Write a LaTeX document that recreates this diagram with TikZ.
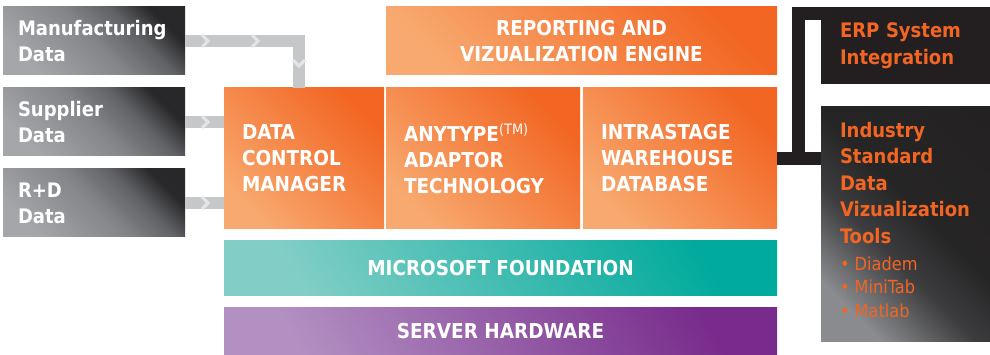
\documentclass[tikz,border=0pt]{standalone}
\usepackage{fontspec}
\setmainfont{DejaVu Sans Condensed}
\usetikzlibrary{positioning}

\definecolor{orangedark}{HTML}{F26522}
\definecolor{orangelight}{HTML}{F8A96F}
\definecolor{tealdark}{HTML}{00AA9C}
\definecolor{teallight}{HTML}{82CEC6}
\definecolor{purpledark}{HTML}{782B8C}
\definecolor{purplelight}{HTML}{B290C2}
\definecolor{darkbg}{HTML}{231F20}
\definecolor{feedgray}{HTML}{C6C7C9}
\definecolor{chevcol}{HTML}{E4E5E6}
\definecolor{tooltext}{HTML}{F26522}

\pgfdeclareverticalshading{srcshade}{100bp}{color(0bp)=(rgb,255:red,165;green,166;blue,170);
  color(25bp)=(rgb,255:red,165;green,166;blue,170); color(50bp)=(rgb,255:red,132;green,133;blue,137);
  color(64bp)=(rgb,255:red,96;green,97;blue,100); color(75bp)=(rgb,255:red,40;green,40;blue,42);
  color(100bp)=(rgb,255:red,40;green,40;blue,42)}
\pgfdeclareverticalshading{indshade}{100bp}{color(0bp)=(rgb,255:red,138;green,139;blue,142);
  color(25bp)=(rgb,255:red,138;green,139;blue,142); color(42bp)=(rgb,255:red,60;green,60;blue,62);
  color(55bp)=(rgb,255:red,38;green,37;blue,38); color(100bp)=(rgb,255:red,35;green,31;blue,32)}

\tikzset{
  block/.style={anchor=north west, inner sep=0pt, outer sep=0pt, text=white,
    font=\bfseries\fontsize{20.5}{26}\selectfont},
  orangebox/.style={bottom color=orangelight, top color=orangedark, shading angle=-45},
  srcbox/.style={block, minimum width=182pt, minimum height=68pt, inner xsep=15pt,
    text width=152pt, align=left, font=\bfseries\fontsize{20}{26}\selectfont,
    shade, shading=srcshade, shading angle=-45},
  corebox/.style={block, orangebox, align=left, inner xsep=18pt, minimum height=141pt},
  barbox/.style={block, align=center, minimum width=553pt},
  toolbox/.style={block, text=tooltext, fill=darkbg, font=\bfseries\fontsize{20}{26.5}\selectfont},
  feed/.style={draw=feedgray, line width=12pt, line join=miter},
  link/.style={draw=darkbg, line width=13pt, line join=miter},
  chev/.pic={\draw[chevcol, line width=3pt, line join=miter] (-4,-6) -- (2,0) -- (-4,6);}
}

\begin{document}
\begin{tikzpicture}[x=1pt,y=-1pt]
  \useasboundingbox (0,0) rectangle (990,355);

  \node[srcbox] (mfg) at (3,7) {Manufacturing\\Data};
  \node[srcbox] (sup) at (3,88) {Supplier\\Data};
  \node[srcbox] (rd) at (3,169) {R+D\\Data};

  \node[corebox, minimum width=160pt, text width=124pt] (dcm) at (224,88) {DATA\\CONTROL\\MANAGER};
  \node[corebox, minimum width=194pt, text width=158pt] (any) at (386,88)
    {ANYTYPE\textsuperscript{\mdseries(TM)}\\ADAPTOR\\TECHNOLOGY};
  \node[corebox, minimum width=194pt, text width=158pt] (intra) at (583,88)
    {INTRASTAGE\\WAREHOUSE\\DATABASE};
  \node[block, orangebox, align=center, minimum width=391pt, minimum height=68pt] (report) at (386,7)
    {REPORTING AND\\VIZUALIZATION ENGINE};

  \node[barbox, minimum height=54pt, bottom color=teallight, top color=tealdark, shading angle=-60] (ms) at (224,241)
    {MICROSOFT FOUNDATION};
  \node[barbox, minimum height=48pt, bottom color=purplelight, top color=purpledark, shading angle=-60] (hw) at (224,307)
    {SERVER HARDWARE};

  \node[toolbox, minimum width=169pt, minimum height=77pt, inner xsep=19pt, text width=131pt, align=left] (erp) at (821,7)
    {ERP System\\Integration};
  \node[block, minimum width=169pt, minimum height=234pt, shade, shading=indshade, shading angle=-45] (ind) at (821,107) {};
  \node[toolbox, fill=none, align=left, anchor=north west] (indtitle) at ([xshift=19pt,yshift=-15pt]ind.north west)
    {Industry\\Standard\\Data\\Vizualization\\Tools};
  \node[toolbox, fill=none, align=left, below=13pt of indtitle.south west, anchor=north west,
    font=\fontsize{18}{23.5}\selectfont] (indlist)
    {• Diadem\\• MiniTab\\• Matlab};

  \draw[feed] (mfg.east) -| ([xshift=-5pt]dcm.north);
  \draw[feed] (sup.east) -- (sup.east -| dcm.west);
  \draw[feed] (rd.east) -- (rd.east -| dcm.west);
  \path (206,41) pic {chev} (256,41) pic {chev} (299,64) pic[rotate=-90] {chev}
        (206,122) pic {chev} (206,203) pic {chev};

  \draw[link] (intra.east) -- (intra.east -| ind.west);
  \draw[link] ([xshift=21.5pt]intra.east) |- ([xshift=2pt,yshift=-6.5pt]erp.north west);
\end{tikzpicture}
\end{document}
